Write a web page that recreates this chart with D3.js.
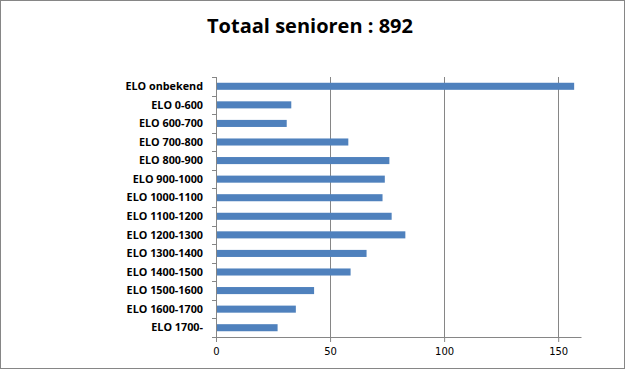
<!DOCTYPE html>
<html>
<head>
<meta charset="utf-8">
<script src="https://cdn.jsdelivr.net/npm/d3@7"></script>
<style>
  body { margin: 0; background: #fff; }
  svg { display: block; }
</style>
</head>
<body>
<div id="chart"></div>
<script>
// Data
const title = 'Totaal senioren : 892';
const categories = [
  'ELO onbekend', 'ELO 0-600', 'ELO 600-700', 'ELO 700-800', 'ELO 800-900',
  'ELO 900-1000', 'ELO 1000-1100', 'ELO 1100-1200', 'ELO 1200-1300',
  'ELO 1300-1400', 'ELO 1400-1500', 'ELO 1500-1600', 'ELO 1600-1700', 'ELO 1700-'
];
const counts = [157, 33, 31, 58, 76, 74, 73, 77, 83, 66, 59, 43, 35, 27];
const xTicks = [0, 50, 100, 150];

const W = 625, H = 369;
const margin = { top: 77, right: 44, bottom: 32, left: 216 };
const width = W - margin.left - margin.right;
const height = H - margin.top - margin.bottom;

const data = categories.map((c, i) => ({ cat: c, value: counts[i] }));

const svg = d3.select('#chart').append('svg')
  .attr('width', W)
  .attr('height', H);

// Outer frame
svg.append('rect')
  .attr('x', 0.5).attr('y', 0.5)
  .attr('width', W - 1).attr('height', H - 1)
  .attr('fill', '#fff')
  .attr('stroke', '#868686');

// Title
svg.append('text')
  .attr('x', 310)
  .attr('y', 33)
  .attr('text-anchor', 'middle')
  .style('font-family', '"Open Sans", "Noto Sans", sans-serif')
  .style('font-weight', 'bold')
  .style('font-size', '20px')
  .text(title);

const g = svg.append('g')
  .attr('transform', `translate(${margin.left}, ${margin.top})`);

const x = d3.scaleLinear()
  .domain([0, 160])
  .range([0, width]);

const y = d3.scaleBand()
  .domain(categories)
  .range([0, height])
  .paddingInner(0.62)
  .paddingOuter(0.31);

// Gridlines
g.selectAll('.grid')
  .data(xTicks.slice(1))
  .enter()
  .append('line')
  .attr('x1', d => Math.round(x(d)) + 0.5)
  .attr('x2', d => Math.round(x(d)) + 0.5)
  .attr('y1', 0)
  .attr('y2', height)
  .attr('stroke', '#868686');

// Bars
g.selectAll('.bar')
  .data(data)
  .enter()
  .append('rect')
  .attr('fill', '#4f81bd')
  .attr('x', 0)
  .attr('y', d => y(d.cat))
  .attr('width', d => x(d.value))
  .attr('height', y.bandwidth());

// X axis
const xAxis = g.append('g')
  .attr('transform', `translate(0, ${height})`)
  .call(d3.axisBottom(x).tickValues(xTicks).tickSize(5).tickSizeOuter(0).tickPadding(6));
xAxis.select('.domain').attr('stroke', '#868686');
xAxis.selectAll('line').attr('stroke', '#868686');
xAxis.selectAll('text')
  .style('font-family', '"DejaVu Sans", sans-serif')
  .style('font-size', '10px')
  .attr('fill', '#000');

// Y axis: ticks at band boundaries
const boundaries = d3.range(categories.length + 1).map(i => i * height / categories.length);
const yAxis = g.append('g');
yAxis.append('line')
  .attr('x1', 0.5).attr('x2', 0.5)
  .attr('y1', 0).attr('y2', height)
  .attr('stroke', '#868686');
yAxis.selectAll('.ytick')
  .data(boundaries)
  .enter()
  .append('line')
  .attr('x1', -4).attr('x2', 0.5)
  .attr('y1', d => Math.round(d) + 0.5)
  .attr('y2', d => Math.round(d) + 0.5)
  .attr('stroke', '#868686');
yAxis.selectAll('.ylabel')
  .data(categories)
  .enter()
  .append('text')
  .attr('x', -13)
  .attr('y', d => y(d) + y.bandwidth() / 2)
  .attr('dy', '0.35em')
  .attr('text-anchor', 'end')
  .style('font-family', '"Open Sans", "Noto Sans", sans-serif')
  .style('font-weight', 'bold')
  .style('font-size', '10.8px')
  .text(d => d);
</script>
</body>
</html>
